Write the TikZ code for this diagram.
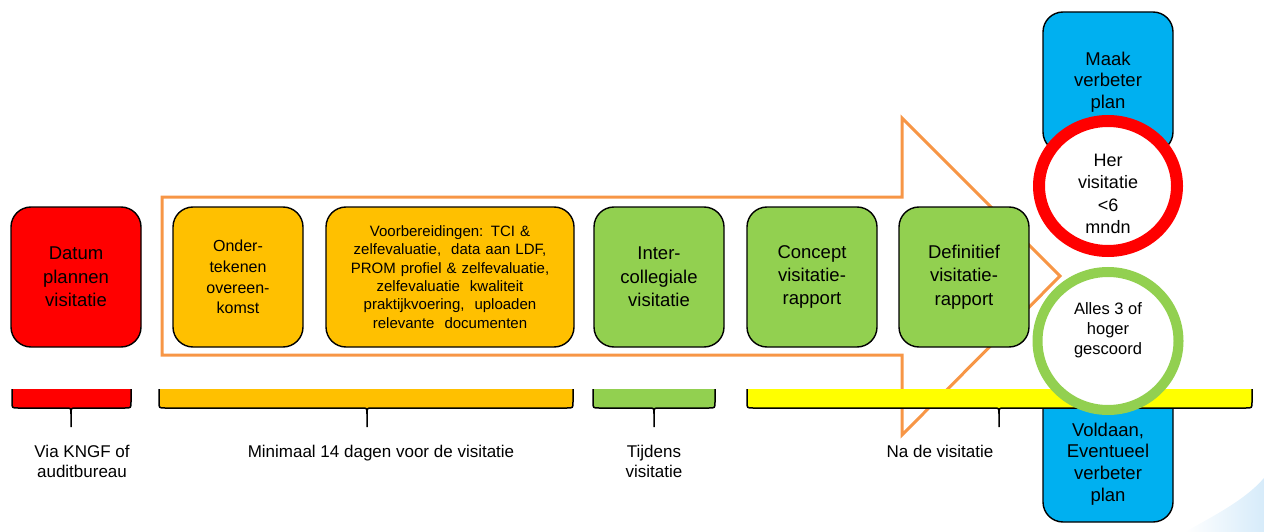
\documentclass[tikz,border=0pt]{standalone}
\usepackage{fontspec}
\setmainfont{Liberation Sans}
\usetikzlibrary{positioning}
\usetikzlibrary{shapes.geometric}

\definecolor{stepred}{HTML}{FF0000}
\definecolor{steporange}{HTML}{FFC000}
\definecolor{stepgreen}{HTML}{92D050}
\definecolor{stepyellow}{HTML}{FFFF00}
\definecolor{stepblue}{HTML}{00B0F0}
\definecolor{arroworange}{HTML}{F79646}
\definecolor{swoosh}{HTML}{D6EBFA}

%% bar with a tick: name, colour, left x, tick x, right x
\newcommand{\timebar}[5]{%
  \fill[#2] (#3,389) -- (#3,402) .. controls (#3,408) .. (#3+6,408)
    -- (#4-5,408) .. controls (#4,408) .. (#4,414)
    .. controls (#4,408) .. (#4+5,408) -- (#5-6,408)
    .. controls (#5,408) .. (#5,402) -- (#5,389) -- cycle;
  \draw[line width=1.5pt] (#3,389) -- (#3,402) .. controls (#3,408) .. (#3+6,408)
    -- (#4-5,408) .. controls (#4,408) .. (#4,414) -- (#4,427)
    (#4,414) .. controls (#4,408) .. (#4+5,408) -- (#5-6,408)
    .. controls (#5,408) .. (#5,402) -- (#5,389);
  \coordinate (#1) at (#4,427);}

\begin{document}
\begin{tikzpicture}
[x=1pt,y=-1pt,%
  procbox/.style={draw,line width=1.4pt,outer sep=0pt,rounded corners=20pt,minimum width=130pt,
    minimum height=140pt,text width=122pt,align=center,
    font=\fontsize{18.5}{23.3}\selectfont},
  bluebox/.style={procbox,fill=stepblue,font=\fontsize{18.5}{21.7}\selectfont},
  ring/.style={ellipse,fill=white,inner sep=0pt},
  ringtext/.style={align=center,inner sep=0pt},
  lbl/.style={align=center,font=\fontsize{17}{20}\selectfont}]
\useasboundingbox (0,0) rectangle (1264,532);
%% background
\shade[left color=white,right color=swoosh] (1185,532)
  .. controls (1215,515) and (1245,500) .. (1264,478) -- (1264,532) -- cycle;
%% big arrow
\draw[arroworange,line width=3pt,line join=miter] (162,197) -- (902,197) -- (902,118)
  -- (1060,276) -- (902,435) -- (902,355) -- (162,355) -- cycle;
%% outcome boxes
\node[bluebox] (maak) at (1108,82) {Maak\\verbeter\\plan};
\node[bluebox,minimum height=134pt] (voldaan) at (1108,455) {};
\node[ringtext,font=\fontsize{18.5}{21.7}\selectfont] (voldaantext) at (1108,464)
  {Voldaan,\\Eventueel\\verbeter\\plan};
%% time bars
\timebar{tA}{stepred}{12}{71}{131}
\timebar{tB}{steporange}{159}{367}{573}
\timebar{tC}{stepgreen}{593}{654}{715}
\timebar{tD}{stepyellow}{747}{999}{1252}
%% steps
\node[procbox,fill=stepred] (datum) at (76,277) {Datum\\plannen\\visitatie};
\node[procbox,fill=steporange,font=\fontsize{16}{20.6}\selectfont] (onder) [right=32pt of datum]
  {Onder-\\tekenen\\overeen-\\komst};
\node[procbox,fill=steporange,minimum width=248pt,text width=240pt,
  font=\fontsize{15}{18.3}\selectfont] (voorb) [right=23pt of onder]
  {Voorbereidingen: TCI \&\\zelfevaluatie, \ data aan LDF,\\PROM profiel \& zelfevaluatie,\\
   zelfevaluatie \ kwaliteit\\praktijkvoering, \ uploaden\\relevante \ documenten};
\node[procbox,fill=stepgreen] (inter) [right=20pt of voorb] {Inter-\\collegiale\\visitatie};
\node[procbox,fill=stepgreen] (concept) [right=23pt of inter] {Concept\\visitatie-\\rapport};
\node[procbox,fill=stepgreen] (defin) [right=22pt of concept] {Definitief\\visitatie-\\rapport};
%% results
\node[ring,draw=stepred,line width=12pt,minimum width=138pt,minimum height=130pt] (her) at (1108,186) {};
\node[ringtext,font=\fontsize{18}{22.5}\selectfont] (hertext) at (1108,194) {Her\\visitatie\\<6\\mndn};
\node[ring,draw=stepgreen,line width=10pt,minimum width=141pt,minimum height=138pt] (alles) at (1108,341) {};
\node[ringtext,font=\fontsize{16.5}{20}\selectfont] (allestext) at (1108,330) {Alles 3 of\\hoger\\gescoord};
%% labels
\node[lbl] (via) [below=15pt of tA, xshift=11pt] {Via KNGF of\\auditbureau};
\node[lbl] (minimaal) [below=15pt of tB, xshift=14pt] {Minimaal 14 dagen voor de visitatie};
\node[lbl] (tijdens) [below=15pt of tC] {Tijdens\\visitatie};
\node[lbl] (na) [below=15pt of tD, xshift=-59pt] {Na de visitatie};
\end{tikzpicture}
\end{document}
